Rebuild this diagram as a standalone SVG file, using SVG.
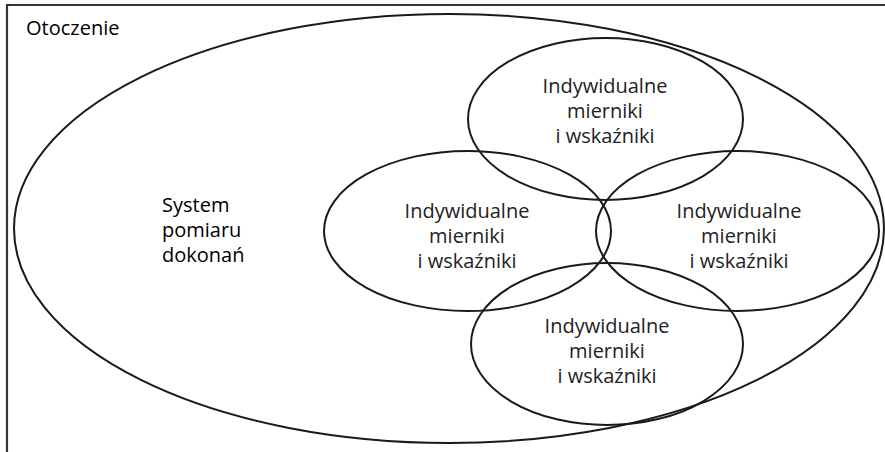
<svg xmlns="http://www.w3.org/2000/svg" width="885" height="452" viewBox="0 0 885 452">
  <style>
    .frame { fill: none; stroke: #333; stroke-width: 2.2; }
    .ell { fill: none; stroke: #1a1a1a; stroke-width: 2; }
    .lbl { font-family: "Open Sans", "Liberation Sans", sans-serif; font-size: 20px; fill: #222; text-anchor: middle; }
    .title { font-family: "Open Sans", "Liberation Sans", sans-serif; font-size: 20px; fill: #000; }
  </style>
  <rect width="885" height="452" fill="#fff"/>

  <!-- environment frame (open at the bottom and right) -->
  <g id="otoczenie">
    <polyline class="frame" points="7,452 7,5 885,5"/>
    <text class="title" x="26" y="35" font-size="21.5">Otoczenie</text>
  </g>

  <!-- performance measurement system -->
  <g id="system">
    <ellipse class="ell" cx="449" cy="228.5" rx="435" ry="214.5"/>
    <text class="title" x="162" y="212">System</text>
    <text class="title" x="162" y="237">pomiaru</text>
    <text class="title" x="162" y="262">dokonań</text>
  </g>

  <g id="top">
    <ellipse class="ell" cx="605.5" cy="119" rx="137.5" ry="81"/>
    <text class="lbl" x="605" y="93">Indywidualne</text>
    <text class="lbl" x="605" y="118">mierniki</text>
    <text class="lbl" x="605" y="143">i wskaźniki</text>
  </g>

  <g id="left">
    <ellipse class="ell" cx="467.5" cy="231" rx="143.5" ry="80"/>
    <text class="lbl" x="467" y="218">Indywidualne</text>
    <text class="lbl" x="467" y="243">mierniki</text>
    <text class="lbl" x="467" y="268">i wskaźniki</text>
  </g>

  <g id="right">
    <ellipse class="ell" cx="737.5" cy="231" rx="141.5" ry="80"/>
    <text class="lbl" x="739" y="218">Indywidualne</text>
    <text class="lbl" x="739" y="243">mierniki</text>
    <text class="lbl" x="739" y="268">i wskaźniki</text>
  </g>

  <g id="bottom">
    <ellipse class="ell" cx="607" cy="344" rx="136" ry="81"/>
    <text class="lbl" x="607" y="333">Indywidualne</text>
    <text class="lbl" x="607" y="358">mierniki</text>
    <text class="lbl" x="607" y="383">i wskaźniki</text>
  </g>

  <g id="connectors"/>
</svg>
